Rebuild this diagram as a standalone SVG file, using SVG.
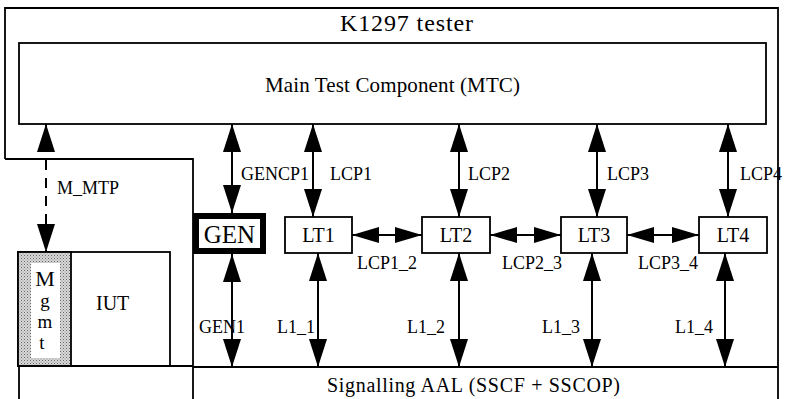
<svg xmlns="http://www.w3.org/2000/svg" width="789" height="399" viewBox="0 0 789 399">
<defs>
<style>
.ln{fill:none;stroke:#000;stroke-width:1.8}
.box{fill:#fff;stroke:#000;stroke-width:1.8}
.t{font-family:"Liberation Serif","Times New Roman",serif;fill:#000}
.lbl{font-size:18px}
.arr{fill:none;stroke:#000;stroke-width:2;marker-start:url(#ah);marker-end:url(#ah)}
.harr{fill:none;stroke:#000;stroke-width:2;marker-start:url(#hh);marker-end:url(#hh)}
</style>
<marker id="ah" viewBox="0 0 28 18" refX="28" refY="9" markerWidth="28" markerHeight="18" markerUnits="userSpaceOnUse" orient="auto-start-reverse"><path d="M0,0 L28,9 L0,18 z" fill="#000"/></marker>
<marker id="hh" viewBox="0 0 27 16" refX="27" refY="8" markerWidth="27" markerHeight="16" markerUnits="userSpaceOnUse" orient="auto-start-reverse"><path d="M0,0 L27,8 L0,16 z" fill="#000"/></marker>
<pattern id="stip" width="3" height="3" patternUnits="userSpaceOnUse"><rect width="3" height="3" fill="#d8d8d8"/><rect x="0" y="0" width="1" height="1" fill="#666"/><rect x="1.5" y="1.5" width="1" height="1" fill="#888"/></pattern>
</defs>
<rect width="789" height="399" fill="#fff"/>

<g id="tester">
<path class="ln" d="M5,159 V8 H778 V399 M5,159 H193 V399"/>
<text class="t" x="340" y="31" font-size="24" textLength="133">K1297 tester</text>
</g>

<g id="mtc">
<rect class="box" x="19" y="43" width="747" height="81"/>
<text class="t" x="265" y="92" font-size="21" textLength="255">Main Test Component (MTC)</text>
</g>

<g id="iut">
<rect class="box" x="18" y="252" width="152" height="114"/>
<text class="t" x="96" y="310" font-size="20">IUT</text>
</g>

<g id="mgmt">
<rect x="18" y="252" width="53" height="114" fill="url(#stip)" stroke="#000" stroke-width="1.8"/>
<rect x="31" y="263" width="29" height="95" fill="#fff"/>
<text class="t" font-size="19" text-anchor="middle"><tspan x="45" y="286" font-size="22">M</tspan><tspan x="45" y="307">g</tspan><tspan x="45" y="328">m</tspan><tspan x="42" y="349">t</tspan></text>
</g>

<g id="lower-left">
<path class="ln" d="M19,399 V366 H193" stroke-width="2.5"/>
</g>

<g id="aal">
<path class="ln" d="M193,367 H778"/>
<text class="t" x="327" y="392" font-size="20" textLength="293">Signalling AAL (SSCF + SSCOP)</text>
</g>

<g id="gen">
<rect x="196" y="216" width="67" height="35" fill="#fff" stroke="#000" stroke-width="6"/>
<text class="t" x="229.5" y="243" font-size="25" text-anchor="middle">GEN</text>
</g>

<g id="lt1">
<rect class="box" x="285" y="217" width="67" height="36"/>
<text class="t" x="318.5" y="242" font-size="20" text-anchor="middle">LT1</text>
</g>
<g id="lt2">
<rect class="box" x="422" y="217" width="68" height="36"/>
<text class="t" x="456" y="242" font-size="20" text-anchor="middle">LT2</text>
</g>
<g id="lt3">
<rect class="box" x="561" y="217" width="66" height="36"/>
<text class="t" x="594" y="242" font-size="20" text-anchor="middle">LT3</text>
</g>
<g id="lt4">
<rect class="box" x="699" y="217" width="68" height="36"/>
<text class="t" x="733" y="242" font-size="20" text-anchor="middle">LT4</text>
</g>

<g id="connectors">
<line class="arr" x1="46" y1="124" x2="46" y2="252" stroke-dasharray="10,8"/>
<line class="arr" x1="232" y1="124" x2="232" y2="213"/>
<line class="arr" x1="313" y1="124" x2="313" y2="217"/>
<line class="arr" x1="459" y1="124" x2="459" y2="217"/>
<line class="arr" x1="597" y1="124" x2="597" y2="217"/>
<line class="arr" x1="728" y1="124" x2="728" y2="217"/>
<line class="arr" x1="232" y1="254" x2="232" y2="367"/>
<line class="arr" x1="318" y1="253" x2="318" y2="367"/>
<line class="arr" x1="459" y1="253" x2="459" y2="367"/>
<line class="arr" x1="592" y1="253" x2="592" y2="367"/>
<line class="arr" x1="725" y1="253" x2="725" y2="367"/>
<line class="harr" x1="352" y1="235" x2="422" y2="235"/>
<line class="harr" x1="490" y1="235" x2="561" y2="235"/>
<line class="harr" x1="627" y1="235" x2="699" y2="235"/>
<g class="t lbl">
<text x="57" y="194">M_MTP</text>
<text x="241" y="180">GENCP1</text>
<text x="330" y="180">LCP1</text>
<text x="468" y="180">LCP2</text>
<text x="607" y="180">LCP3</text>
<text x="740" y="180">LCP4</text>
<text x="357" y="269">LCP1_2</text>
<text x="502" y="269">LCP2_3</text>
<text x="638" y="269">LCP3_4</text>
<text x="199" y="333">GEN1</text>
<text x="277" y="333">L1_1</text>
<text x="407" y="333">L1_2</text>
<text x="542" y="333">L1_3</text>
<text x="675" y="333">L1_4</text>
</g>
</g>
</svg>
